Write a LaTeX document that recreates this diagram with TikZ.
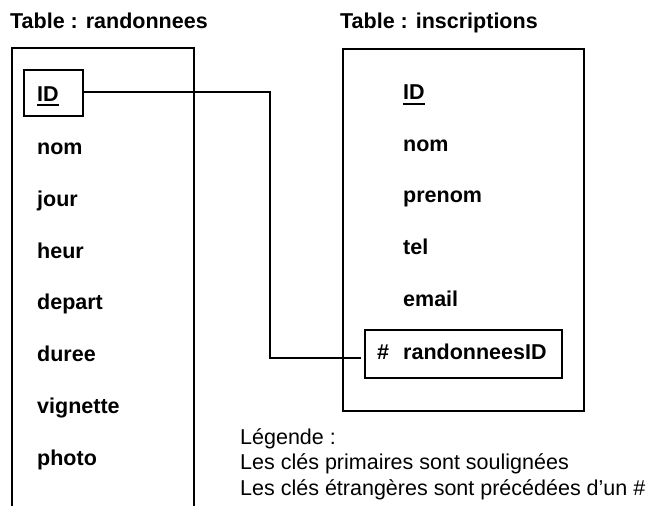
\documentclass[tikz,border=0pt]{standalone}
\usepackage{fontspec}
\setmainfont{Liberation Sans}
\newcommand\pkul[2]{\setbox0\hbox{#2}\rlap{\rule[#1]{\wd0}{1.8pt}}\box0}
\begin{document}
\begin{tikzpicture}[x=1pt,y=-1pt,
  fieldtxt/.style={anchor=base west,inner sep=0pt,font=\bfseries\fontsize{21.5}{26}\selectfont},
  legtxt/.style={anchor=base west,inner sep=0pt,font=\fontsize{21.5}{26}\selectfont},
  tablebox/.style={draw,line width=2pt},
  keybox/.style={draw,line width=2pt,inner sep=0pt,rectangle},
  conn/.style={draw,line width=1.3pt}]
\useasboundingbox (0,0) rectangle (649,506);
% titles
\node[fieldtxt] (t1) at (10,28) {Table : randonnees};
\node[fieldtxt] (t2) at (340,28) {Table : inscriptions};
% left table frame (open at bottom)
\draw[tablebox] (12,508) -- (12,48) -- (194,48) -- (194,508);
% right table frame
\node[keybox,minimum width=241pt,minimum height=362pt] (tbl2) at (463.5,229.5) {};
% key boxes
\node[keybox,minimum width=59pt,minimum height=46pt] (idbox) at (53.5,93) {};
\node[keybox,minimum width=197pt,minimum height=48pt] (fkbox) at (463.5,354) {};
% left fields
\node[fieldtxt] (lid) at (37,101) {\pkul{-5pt}{ID}};
\node[fieldtxt] (lnom) at (37,154) {nom};
\node[fieldtxt] (ljour) at (37,206) {jour};
\node[fieldtxt] (lheur) at (37,258) {heur};
\node[fieldtxt] (ldep) at (37,309) {depart};
\node[fieldtxt] (ldur) at (37,361) {duree};
\node[fieldtxt] (lvig) at (37,413) {vignette};
\node[fieldtxt] (lpho) at (37,465) {photo};
% right fields
\node[fieldtxt] (rid) at (403,99) {\pkul{-5.5pt}{ID}};
\node[fieldtxt] (rnom) at (403,151) {nom};
\node[fieldtxt] (rpre) at (403,202) {prenom};
\node[fieldtxt] (rtel) at (403,254) {tel};
\node[fieldtxt] (rema) at (403,306) {email};
\node[fieldtxt] (rhash) at (377,359) {\#};
\node[fieldtxt] (rfk) at (403,359) {randonneesID};
% connector
\coordinate (bend) at (270,0);
\coordinate (fkend) at ([xshift=-3pt,yshift=-4pt]fkbox.west);
\draw[conn] ([yshift=1pt]idbox.east) -- ([yshift=1pt]idbox.east -| bend) |- (fkend);
% legend
\node[legtxt] (l1) at (240,444) {Légende :};
\node[legtxt] (l2) at (240,469) {Les clés primaires sont soulignées};
\node[legtxt] (l3) at (240,495) {Les clés étrangères sont précédées d’un \#};
\end{tikzpicture}
\end{document}
